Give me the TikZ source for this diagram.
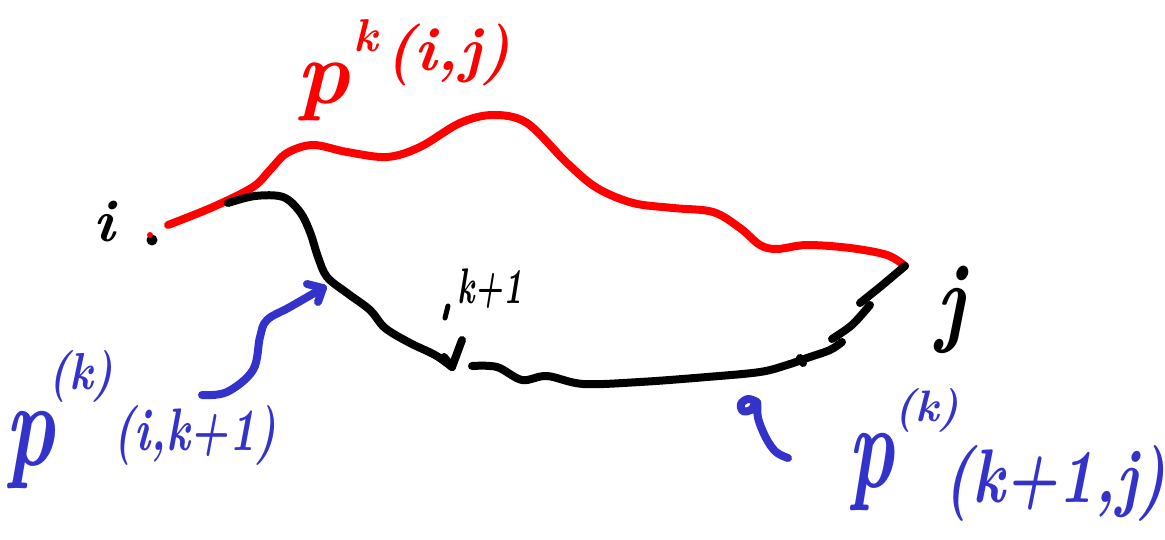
\documentclass[tikz,border=0pt]{standalone}
\definecolor{inkblue}{RGB}{51,51,204}
\definecolor{inkred}{RGB}{255,0,0}
\begin{document}
\begin{tikzpicture}[x=1pt,y=-1pt,
  ink/.style={line width=8pt, line cap=round, line join=round},
  lbl/.style={inner sep=0pt, outer sep=0pt, transform shape},
  fs/.style={font=\fontsize{#1}{#1}\selectfont\bfseries\itshape}]
\useasboundingbox (0,0) rectangle (1165,540);

% vertices
\coordinate (vi) at (152,240);
\coordinate (vk) at (452,367);
\coordinate (vj) at (905,266);
\coordinate (rs) at (168,225);
\coordinate (bs) at (228,203);
\coordinate (ls) at (472,366);

% red path p^k(i,j)
\draw[ink, inkred] plot[smooth, tension=0.55] coordinates {
 (rs) (213,207) (253,187) (270,170) (287,153) (313,145) (347,152) (387,157)
 (420,147) (460,123) (493,115) (527,123) (567,163) (597,188) (633,203)
 (673,208) (713,212) (740,228) (760,245) (777,249) (807,245) (850,248)
 (887,255) (vj)};

% black path i -> k+1
\draw[ink] plot[smooth, tension=0.55] coordinates {
 (bs) (255,196) (283,197) (300,212) (310,232) (318,257) (327,277) (347,293)
 (370,310) (385,328) (410,343) (435,355) (vk)};
\draw[ink] (vk) -- (462,340);
\draw[ink] (vk) -- (444,357);

% black path k+1 -> j
\draw[ink] plot[smooth, tension=0.55] coordinates {
 (ls) (497,367) (522,380) (547,376) (583,384) (640,382) (707,377) (760,372)
 (787,365) (807,358) (830,350) (842,342)};
\draw[ink] plot[smooth, tension=0.5] coordinates {(832,339) (852,325) (870,305)};
\draw[ink] plot[smooth, tension=0.5] coordinates {(860,303) (880,287) (vj)};
\draw[ink] (803,363) -- (800,358);

% vertex dots
\fill (vi) circle (5.5pt);
\fill[inkred] (150,235) circle (3pt);

% labels i, j, k+1
\node[lbl, fs=60] (li) at (104,222) {i};
\node[lbl, fs=100, xscale=0.8] (lj) at (951,310) {j};
\node[lbl, fs=50, xscale=0.65] (lk) at (490,289) {k+1};
\draw[ink, line width=5pt] (445,318) -- (448,306);

% red label
\node[lbl, text=inkred, fs=90] (rp) at (323,92) {p};
\node[lbl, text=inkred, fs=46] (rk) at (366,36) {k};
\node[lbl, text=inkred, fs=62] (rij) at (448,55) {(i,j)};

% blue label 1
\node[lbl, text=inkblue, fs=120, xscale=0.7] (bp1) at (30,450) {p};
\node[lbl, text=inkblue, fs=52, xscale=0.85] (bk1) at (81,376) {(k)};
\node[lbl, text=inkblue, fs=60, xscale=0.74] (ba1) at (195,435) {(i,k+1)};
\coordinate (t1) at (323,288);
\draw[ink, inkblue] plot[smooth, tension=0.6] coordinates {
 (202,395) (227,392) (253,370) (260,337) (267,320) (290,307) (t1)};
\draw[ink, inkblue] (307,284) -- (t1) -- (318,302);

% blue label 2
\node[lbl, text=inkblue, fs=120, xscale=0.65] (bp2) at (872,472) {p};
\node[lbl, text=inkblue, fs=44] (bk2) at (927,410) {(k)};
\node[lbl, text=inkblue, fs=76, xscale=0.8] (ba2) at (1055,483) {(k+1,j)};
\draw[ink, inkblue] plot[smooth, tension=0.6] coordinates {
 (757,402) (748,399) (741,404) (743,411) (751,410) (757,402) (758,418)
 (766,438) (776,452) (788,458)};
\end{tikzpicture}
\end{document}
